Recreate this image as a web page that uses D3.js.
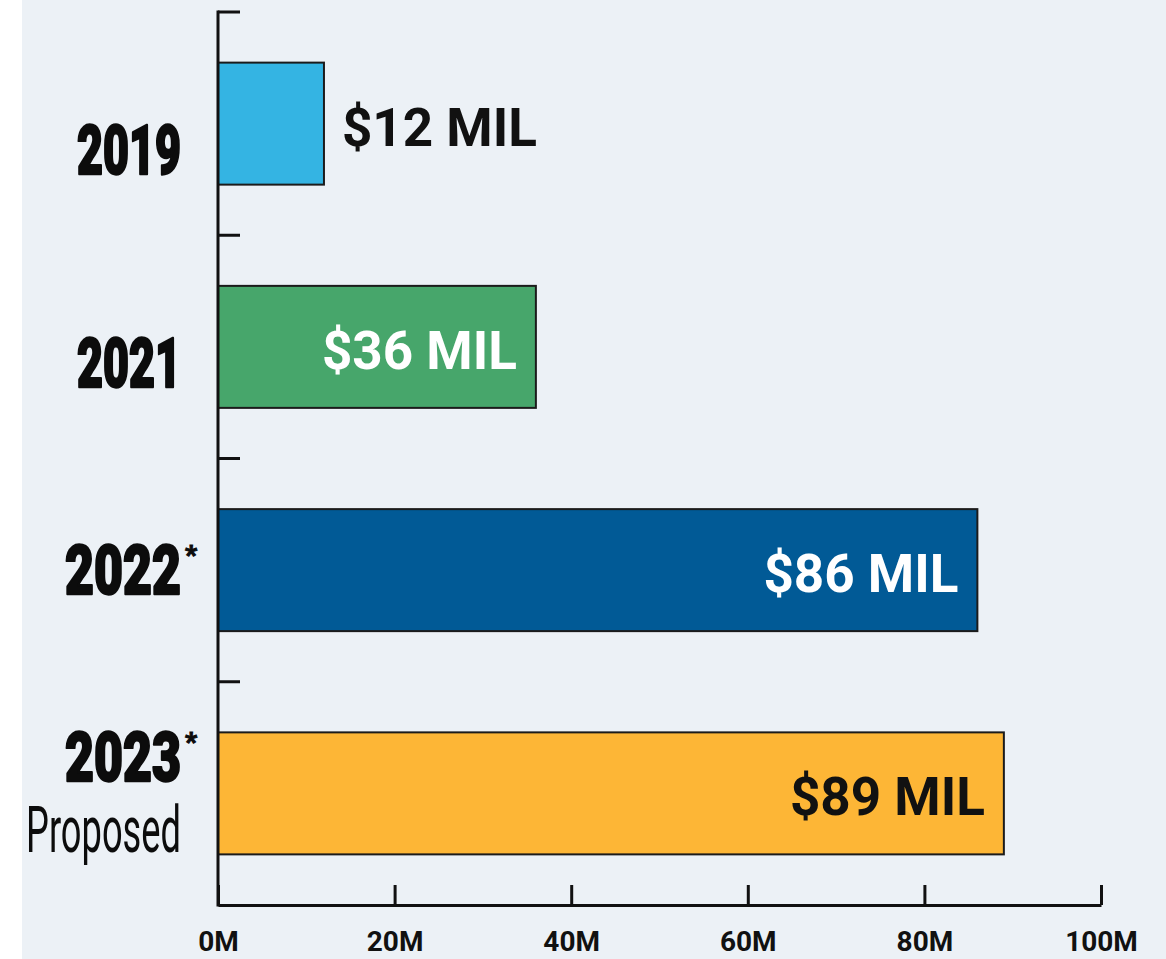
<!DOCTYPE html>
<html>
<head>
<meta charset="utf-8">
<script src="https://cdn.jsdelivr.net/npm/d3@7"></script>
<style>
  html, body { margin: 0; padding: 0; background: #ffffff; }
  svg { display: block; }
</style>
</head>
<body>
<svg id="chart"></svg>
<script>
// data
const years = ["2019", "2021", "2022", "2023"];
const starred = [false, false, true, true];
const subLabels = ["", "", "", "Proposed"];
const amounts = [12, 36, 86, 89];          // millions of dollars
const barColors = ["#34b4e3", "#47a66b", "#015a96", "#fdb636"];
const labelColors = ["#111111", "#ffffff", "#ffffff", "#111111"];
const xTicks = [0, 20, 40, 60, 80, 100];

// per-label vertical nudge for the category names (px, from band centre)
const yearNudge = [50, 40, 24, -12];

const W = 1166, H = 959;
const margin = {top: 12, right: 65, bottom: 54, left: 218};

const svg = d3.select("#chart").attr("width", W).attr("height", H);

// light panel, small white strip on the left
svg.append("rect").attr("x", 22).attr("y", 0)
    .attr("width", W - 22).attr("height", H).attr("fill", "#ecf1f6");

const g = svg.append("g")
    .attr("transform", "translate(" + margin.left + "," + margin.top + ")");

const width = W - margin.left - margin.right;   // 883
const height = H - margin.top - margin.bottom;  // 893

const x = d3.scaleLinear().domain([0, 100]).range([0, width]);
const pIn = 0.4535;
const y = d3.scaleBand().domain(years).range([0, height])
    .paddingInner(pIn).paddingOuter(pIn / 2);

// bars
g.selectAll("rect.bar")
  .data(years)
  .enter().append("rect")
  .attr("class", "bar")
  .attr("x", x(0))
  .attr("y", d => y(d))
  .attr("width", (d, i) => x(amounts[i]) - x(0))
  .attr("height", y.bandwidth())
  .attr("fill", (d, i) => barColors[i])
  .attr("stroke", "#1b1b1b")
  .attr("stroke-width", 2);

// value labels: outside for the short bar, inside right otherwise
g.selectAll("text.val")
  .data(years)
  .enter().append("text")
  .attr("class", "val")
  .attr("x", (d, i) => amounts[i] < 20 ? x(amounts[i]) + 18 : x(amounts[i]) - 19)
  .attr("y", d => y(d) + y.bandwidth() / 2 + 22)
  .attr("text-anchor", (d, i) => amounts[i] < 20 ? "start" : "end")
  .attr("fill", (d, i) => labelColors[i])
  .style("font-family", "Roboto, 'Noto Sans', sans-serif")
  .style("font-weight", 700)
  .style("font-size", "53px")
  .text((d, i) => "$" + amounts[i] + " MIL");

// x axis
const xAxis = g.append("g")
  .attr("transform", "translate(0," + height + ")")
  .call(d3.axisBottom(x).tickValues(xTicks).tickSize(-20).tickSizeOuter(0)
        .tickPadding(26).tickFormat(d => d + "M"));
xAxis.select(".domain").attr("stroke", "#111").attr("stroke-width", 3);
xAxis.selectAll(".tick line").attr("stroke", "#111").attr("stroke-width", 3);
xAxis.selectAll(".tick text")
  .attr("fill", "#111")
  .style("font-family", "Roboto, 'Noto Sans', sans-serif")
  .style("font-weight", 700)
  .style("font-size", "28px");

// y axis line with ticks at band boundaries
const half = y.step() * pIn / 2;
const bounds = years.map(d => y(d) - half);
g.append("line")
  .attr("x1", 0).attr("x2", 0).attr("y1", bounds[0]).attr("y2", height)
  .attr("stroke", "#111").attr("stroke-width", 3).attr("stroke-linecap", "square");
g.selectAll("line.ytick")
  .data(bounds)
  .enter().append("line")
  .attr("class", "ytick")
  .attr("x1", 0).attr("x2", 22)
  .attr("y1", d => d).attr("y2", d => d)
  .attr("stroke", "#111").attr("stroke-width", 3);

// category labels (condensed heavy look via textLength; "1" is narrow)
const labelRight = -37;
const digitW = c => c === "1" ? 17 : 29;
years.forEach((d, i) => {
  const cy = y(d) + y.bandwidth() / 2 + yearNudge[i];
  g.append("text")
    .attr("x", labelRight)
    .attr("y", cy)
    .attr("text-anchor", "end")
    .attr("textLength", d3.sum(d.split(""), digitW))
    .attr("lengthAdjust", "spacingAndGlyphs")
    .attr("fill", "#0c0c0c")
    .attr("stroke", "#0c0c0c")
    .attr("stroke-width", 2.4)
    .attr("stroke-linejoin", "round")
    .style("font-family", "Roboto, 'DejaVu Sans', sans-serif")
    .style("font-weight", 900)
    .style("font-size", "68px")
    .text(d);
  // superscript asterisk sits tight against the digits, as in the reference
  if (starred[i]) {
    g.append("text")
      .attr("x", labelRight + 4)
      .attr("y", cy - 30)
      .attr("fill", "#0c0c0c")
      .attr("stroke", "#0c0c0c")
      .attr("stroke-width", 1)
      .style("font-family", "Roboto, 'DejaVu Sans', sans-serif")
      .style("font-weight", 900)
      .style("font-size", "26px")
      .text("*");
  }
  if (subLabels[i]) {
    g.append("text")
      .attr("x", labelRight)
      .attr("y", cy + 71)
      .attr("text-anchor", "end")
      .attr("textLength", 155)
      .attr("lengthAdjust", "spacingAndGlyphs")
      .attr("fill", "#0c0c0c")
      .style("font-family", "Roboto, 'DejaVu Sans', sans-serif")
      .style("font-weight", 400)
      .style("font-size", "64px")
      .text(subLabels[i]);
  }
});
</script>
</body>
</html>
